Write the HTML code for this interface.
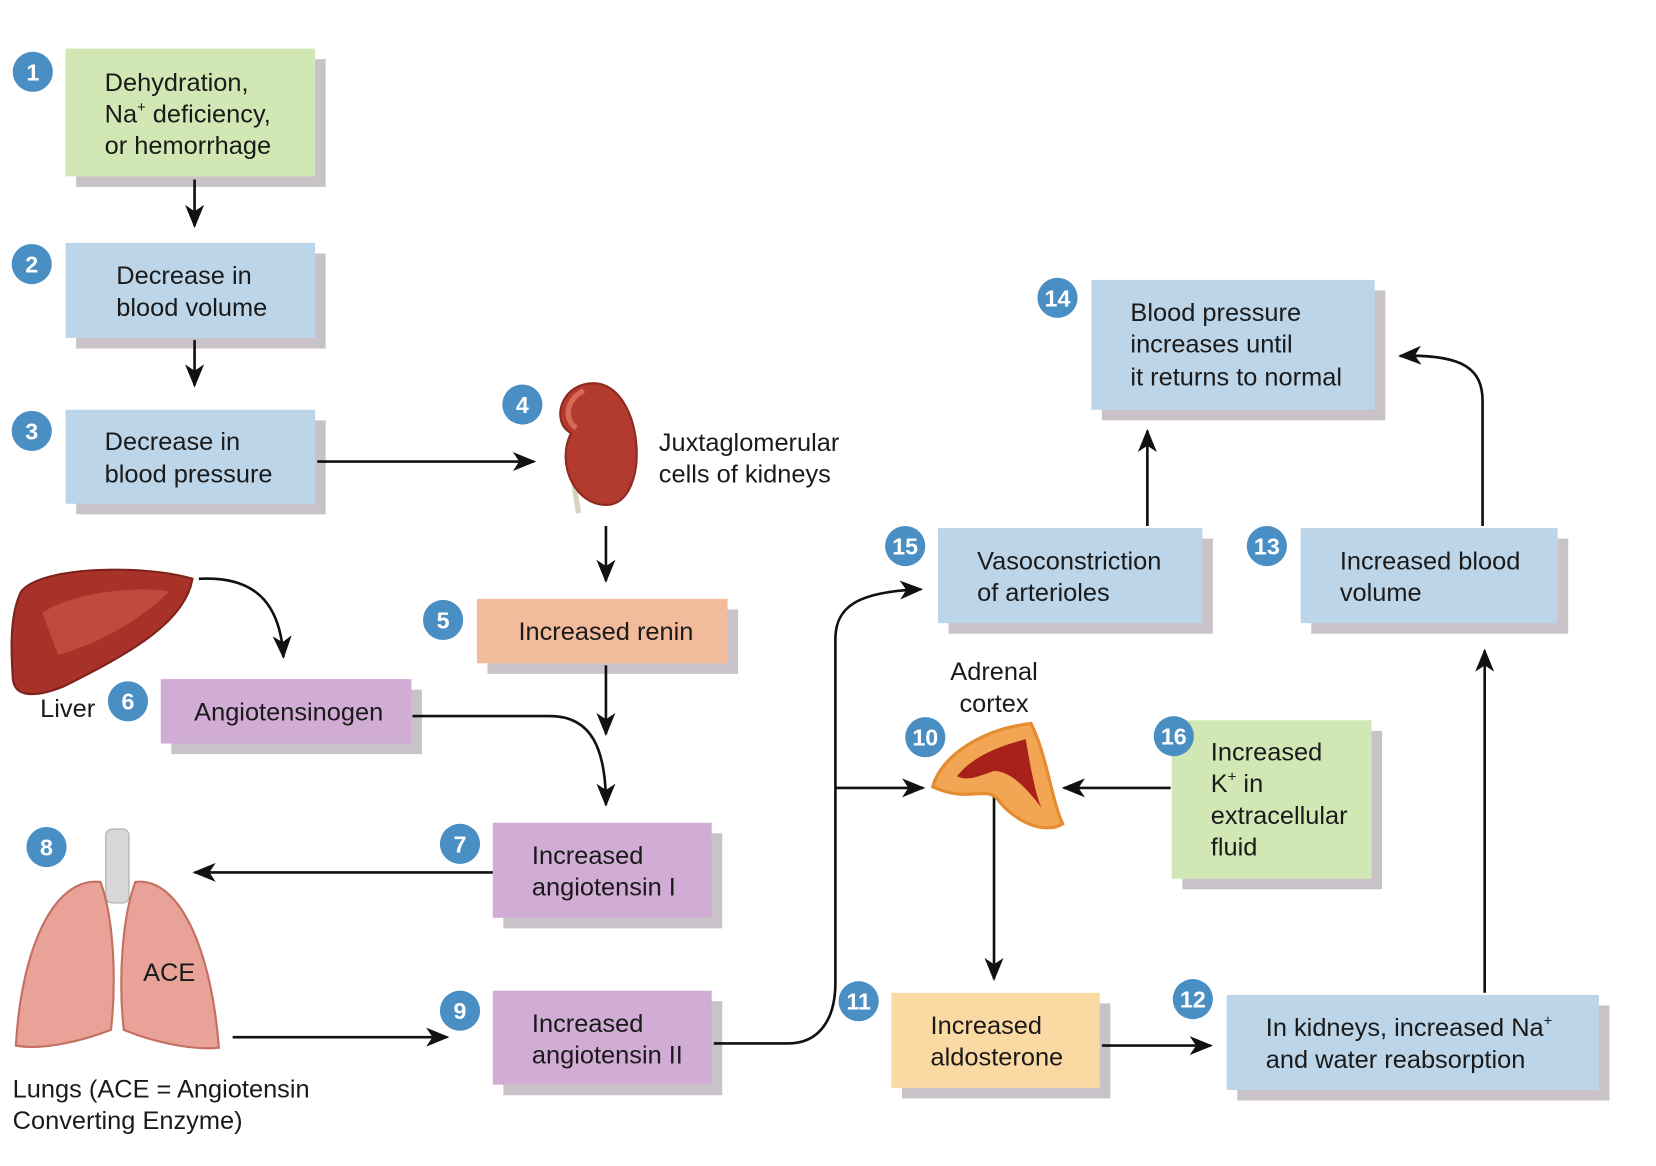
<!DOCTYPE html>
<html><head><meta charset="utf-8"><style>
html,body{margin:0;padding:0;background:#fff;}
svg{display:block}
text{font-family:"Liberation Sans",sans-serif;font-size:24px;fill:#1a1a1a}
.n{fill:#fff;font-size:22px;font-weight:bold;text-anchor:middle}
</style></head><body>
<svg width="1656" height="1166" viewBox="0 0 1566 1104" preserveAspectRatio="none">
<defs>
<marker id="a" markerWidth="22" markerHeight="18" refX="20" refY="9" orient="auto" markerUnits="userSpaceOnUse" viewBox="0 0 22 18">
<path d="M0,0 L22,9 L0,18 L6,9 Z" fill="#111"/></marker>
</defs>
<rect width="1566" height="1104" fill="#fff"/>
<g fill="#c9c3c9">
<rect x="72" y="56" width="236" height="121"/>
<rect x="72" y="240" width="236" height="90"/>
<rect x="72" y="398" width="236" height="89"/>
<rect x="461" y="577" width="237" height="61"/>
<rect x="162" y="653" width="237" height="61"/>
<rect x="476" y="789" width="207" height="90"/>
<rect x="476" y="948" width="207" height="89"/>
<rect x="897" y="510" width="250" height="90"/>
<rect x="1042" y="275" width="268" height="123"/>
<rect x="1240" y="510" width="243" height="90"/>
<rect x="1118" y="692" width="189" height="150"/>
<rect x="853" y="950" width="197" height="90"/>
<rect x="1170" y="952" width="352" height="90"/>
</g>
<rect x="62" y="46" width="236" height="121" fill="#d2e8b4"/>
<rect x="62" y="230" width="236" height="90" fill="#bcd5e8"/>
<rect x="62" y="388" width="236" height="89" fill="#bcd5e8"/>
<rect x="451" y="567" width="237" height="61" fill="#f2bb9c"/>
<rect x="152" y="643" width="237" height="61" fill="#d1acd4"/>
<rect x="466" y="779" width="207" height="90" fill="#d1acd4"/>
<rect x="466" y="938" width="207" height="89" fill="#d1acd4"/>
<rect x="887" y="500" width="250" height="90" fill="#bcd5e8"/>
<rect x="1032" y="265" width="268" height="123" fill="#bcd5e8"/>
<rect x="1230" y="500" width="243" height="90" fill="#bcd5e8"/>
<rect x="1108" y="682" width="189" height="150" fill="#d2e8b4"/>
<rect x="843" y="940" width="197" height="90" fill="#fbd9a2"/>
<rect x="1160" y="942" width="352" height="90" fill="#bcd5e8"/>

<g stroke="#111" stroke-width="2.5" fill="none" marker-end="url(#a)">
<path d="M184,170 V214"/>
<path d="M184,322 V365"/>
<path d="M300,437 H505"/>
<path d="M573,498 V550"/>
<path d="M188,548 C240,545 265,570 268,622"/>
<path d="M573,630 V695"/>
<path d="M390,678 H520 C560,678 573,710 573,762"/>
<path d="M466,826 H184"/>
<path d="M220,982 H423"/>
<path d="M675,988 H745 C775,988 790,965 790,930 V605 C790,575 810,560 871,558"/>
<path d="M790,746 H873"/>
<path d="M1085,498 V408"/>
<path d="M1402,498 V380 C1402,350 1385,335 1324,337"/>
<path d="M1107,746 H1006"/>
<path d="M940,745 V927"/>
<path d="M1042,990 H1145"/>
<path d="M1404,940 V616"/>
</g>

<!-- kidney -->
<path d="M544,420 C538,440 545,470 547,486" stroke="#d8d2c0" stroke-width="5" fill="none"/>
<path d="M565,363 C530,360 520,400 540,410 C525,440 545,480 575,478 C615,475 610,370 565,363 Z" fill="#b23a2e" stroke="#8e2a20" stroke-width="2"/>
<path d="M552,370 C535,378 533,398 545,405" stroke="#d86a55" stroke-width="5" fill="none"/>
<!-- liver -->
<path d="M20,560 C40,535 140,535 182,548 C175,590 120,620 60,650 C35,660 12,662 12,640 C10,610 10,580 20,560 Z" fill="#a8322a" stroke="#7e231c" stroke-width="2"/>
<path d="M40,580 C70,560 130,555 160,560 C130,590 90,610 55,620 Z" fill="#c04a3c"/>
<!-- lungs -->
<rect x="100" y="785" width="22" height="70" rx="6" fill="#d8d8d8" stroke="#aaa"/>
<path d="M95,835 C50,830 20,900 15,990 C40,995 80,985 105,975 C110,930 108,870 95,835 Z" fill="#e8a298" stroke="#c56e62" stroke-width="2"/>
<path d="M128,835 C170,830 200,900 207,992 C180,995 140,985 117,975 C112,930 115,870 128,835 Z" fill="#e8a298" stroke="#c56e62" stroke-width="2"/>
<!-- adrenal -->
<path d="M882,745 C890,715 930,690 975,685 C990,715 995,760 1005,780 C990,790 960,780 942,755 C930,745 915,760 882,745 Z" fill="#f2a552" stroke="#e58b30" stroke-width="3"/>
<path d="M905,735 C920,715 950,705 970,700 C975,730 980,755 985,765 C970,745 955,730 940,730 C925,735 915,740 905,735 Z" fill="#a8201a"/>

<g>
<circle cx="31" cy="68" r="19" fill="#4a8fc4"/><text class="n" x="31" y="76">1</text>
<circle cx="30" cy="250" r="19" fill="#4a8fc4"/><text class="n" x="30" y="258">2</text>
<circle cx="30" cy="408" r="19" fill="#4a8fc4"/><text class="n" x="30" y="416">3</text>
<circle cx="494" cy="383" r="19" fill="#4a8fc4"/><text class="n" x="494" y="391">4</text>
<circle cx="419" cy="587" r="19" fill="#4a8fc4"/><text class="n" x="419" y="595">5</text>
<circle cx="121" cy="664" r="19" fill="#4a8fc4"/><text class="n" x="121" y="672">6</text>
<circle cx="435" cy="799" r="19" fill="#4a8fc4"/><text class="n" x="435" y="807">7</text>
<circle cx="44" cy="802" r="19" fill="#4a8fc4"/><text class="n" x="44" y="810">8</text>
<circle cx="435" cy="957" r="19" fill="#4a8fc4"/><text class="n" x="435" y="965">9</text>
<circle cx="875" cy="698" r="19" fill="#4a8fc4"/><text class="n" x="875" y="706">10</text>
<circle cx="812" cy="948" r="19" fill="#4a8fc4"/><text class="n" x="812" y="956">11</text>
<circle cx="1128" cy="946" r="19" fill="#4a8fc4"/><text class="n" x="1128" y="954">12</text>
<circle cx="1198" cy="517" r="19" fill="#4a8fc4"/><text class="n" x="1198" y="525">13</text>
<circle cx="1000" cy="282" r="19" fill="#4a8fc4"/><text class="n" x="1000" y="290">14</text>
<circle cx="856" cy="517" r="19" fill="#4a8fc4"/><text class="n" x="856" y="525">15</text>
<circle cx="1110" cy="697" r="19" fill="#4a8fc4"/><text class="n" x="1110" y="705">16</text>
</g>

<text x="99" y="86">Dehydration,</text>
<text x="99" y="116">Na<tspan dy="-10" font-size="14">+</tspan><tspan dy="10"> deficiency,</tspan></text>
<text x="99" y="146">or hemorrhage</text>
<text x="110" y="269">Decrease in</text>
<text x="110" y="299">blood volume</text>
<text x="99" y="426">Decrease in</text>
<text x="99" y="457">blood pressure</text>
<text x="623" y="427">Juxtaglomerular</text>
<text x="623" y="457">cells of kidneys</text>
<text x="573" y="606" text-anchor="middle">Increased renin</text>
<text x="38" y="679">Liver</text>
<text x="273" y="682" text-anchor="middle">Angiotensinogen</text>
<text x="503" y="818">Increased</text>
<text x="503" y="848">angiotensin I</text>
<text x="160" y="929" text-anchor="middle">ACE</text>
<text x="12" y="1039">Lungs (ACE = Angiotensin</text>
<text x="12" y="1069">Converting Enzyme)</text>
<text x="503" y="977">Increased</text>
<text x="503" y="1007">angiotensin II</text>
<text x="924" y="539">Vasoconstriction</text>
<text x="924" y="569">of arterioles</text>
<text x="1069" y="304">Blood pressure</text>
<text x="1069" y="334">increases until</text>
<text x="1069" y="365">it returns to normal</text>
<text x="1267" y="539">Increased blood</text>
<text x="1267" y="569">volume</text>
<text x="940" y="644" text-anchor="middle">Adrenal</text>
<text x="940" y="674" text-anchor="middle">cortex</text>
<text x="1145" y="720">Increased</text>
<text x="1145" y="750">K<tspan dy="-10" font-size="14">+</tspan><tspan dy="10"> in</tspan></text>
<text x="1145" y="780">extracellular</text>
<text x="1145" y="810">fluid</text>
<text x="880" y="979">Increased</text>
<text x="880" y="1009">aldosterone</text>
<text x="1197" y="981">In kidneys, increased Na<tspan dy="-10" font-size="14">+</tspan></text>
<text x="1197" y="1011">and water reabsorption</text>
</svg>
</body></html>
